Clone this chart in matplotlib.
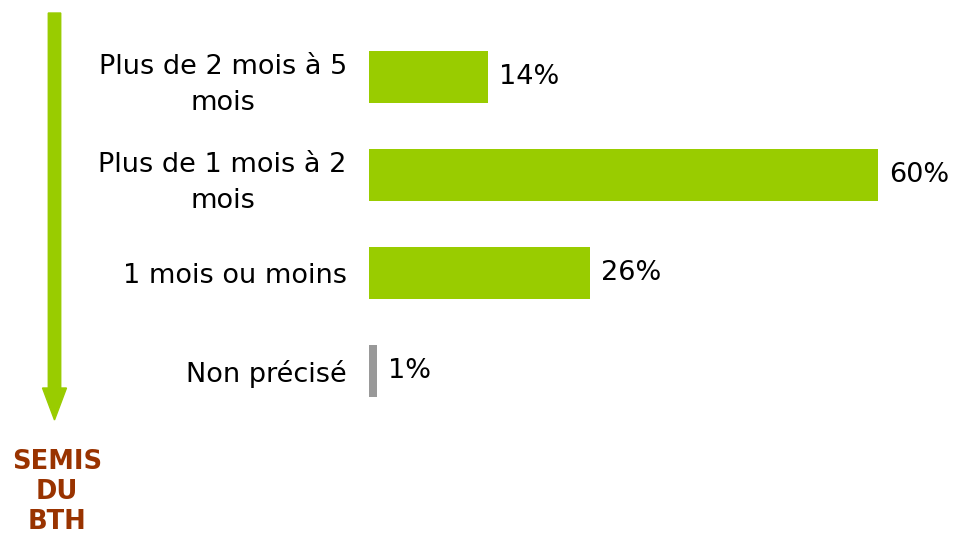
import matplotlib
matplotlib.use("Agg")
import matplotlib.pyplot as plt
from matplotlib.patches import FancyArrow

categories = ["Plus de 2 mois à 5\nmois", "Plus de 1 mois à 2\nmois", "1 mois ou moins", "Non précisé"]
values = [14, 60, 26, 1]
value_labels = ["14%", "60%", "26%", "1%"]
colors = ["#99CC00", "#99CC00", "#99CC00", "#999999"]
side_label = "SEMIS\nDU\nBTH"

W, H = 955, 537
fig = plt.figure(figsize=(W / 100, H / 100), dpi=100)
plt.rcParams['font.family'] = ['DejaVu Sans']

ax_left = 369 / W
ax_right = 905 / W
ax = fig.add_axes([ax_left, 1 - 420 / H, ax_right - ax_left, (420 - 28) / H])
px_per_pct = (878 - 369) / 60
ax.set_xlim(0, (905 - 369) / px_per_pct)
ax.set_ylim(3.5, -0.5)
ypos = list(range(len(categories)))
ax.barh(ypos, values, height=0.53, color=colors)
for y, v, t in zip(ypos, values, value_labels):
    ax.text(v + 11 / px_per_pct, y, t, va="center", ha="left", fontsize=19.5, color="black")
ax.set_yticks(ypos)
ax.set_yticklabels(categories, fontsize=19.5, multialignment="center", linespacing=1.5)
ax.tick_params(axis="y", length=0, pad=16)
ax.set_xticks([])
for s in ax.spines.values():
    s.set_visible(False)

# arrow on the left, in figure pixel coords
arr = FancyArrow(54.5 / W, 1 - 13 / H, 0, -(420 - 13) / H, width=7 / H, head_width=24 / W,
                 head_length=32 / H, length_includes_head=True, color="#99CC00",
                 transform=fig.transFigure, figure=fig)
fig.patches.append(arr)

fig.text(57 / W, 1 - 492 / H, side_label, ha="center", va="center", fontsize=18.5,
         fontweight="bold", color="#993300", linespacing=1.2)

fig.savefig("out.png", dpi=100)
